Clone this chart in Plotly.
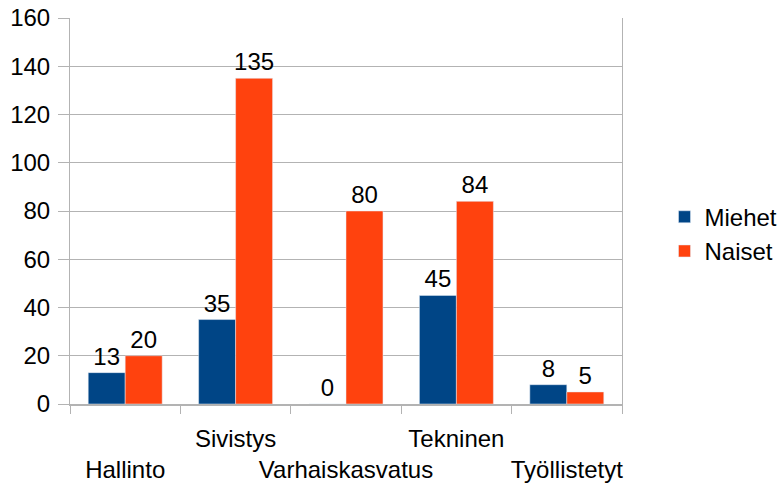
import plotly.graph_objects as go

categories = ["Hallinto", "Sivistys", "Varhaiskasvatus", "Tekninen", "Työllistetyt"]
miehet = [13, 35, 0, 45, 8]
naiset = [20, 135, 80, 84, 5]
y_ticks = [0, 20, 40, 60, 80, 100, 120, 140, 160]

# staggered tick labels (even index on second row)
tick_text = [("<br>" + c) if i % 2 == 0 else c for i, c in enumerate(categories)]

FONT = "Liberation Sans, Arial, sans-serif"
GRID = "#b3b3b3"
FS = 24

fig = go.Figure()
fig.add_trace(go.Bar(name="Miehet", x=categories, y=miehet, marker_color="#004586",
                     text=[str(v) for v in miehet], textposition="outside",
                     constraintext="none",
                     textfont=dict(size=FS, color="black"), cliponaxis=False))
fig.add_trace(go.Bar(name="Naiset", x=categories, y=naiset, marker_color="#ff420e",
                     text=[str(v) for v in naiset], textposition="outside",
                     constraintext="none",
                     textfont=dict(size=FS, color="black"), cliponaxis=False))

fig.update_layout(
    width=778, height=485,
    margin=dict(l=70, r=156, t=18, b=81, autoexpand=False),
    paper_bgcolor="white", plot_bgcolor="white",
    font=dict(family=FONT, size=FS, color="black"),
    barmode="group", bargap=0.33, bargroupgap=0,
    showlegend=True,
    legend=dict(x=1.077, y=0.44, xanchor="left", yanchor="middle",
                font=dict(size=FS), itemwidth=30, tracegroupgap=0),
)
fig.update_xaxes(
    type="category", tickmode="array", tickvals=categories, ticktext=tick_text,
    tickson="boundaries", ticks="outside", ticklen=8, tickcolor=GRID,
    showline=True, linecolor=GRID, linewidth=2, showgrid=False,
    tickfont=dict(size=FS), tickangle=0, automargin=False, ticklabelstandoff=12,
)
fig.update_yaxes(
    range=[0, 160], tickvals=y_ticks, ticks="outside", ticklen=11, tickcolor=GRID,
    showgrid=True, gridcolor=GRID, gridwidth=1,
    showline=True, linecolor=GRID, linewidth=1, mirror=True,
    tickfont=dict(size=FS), zeroline=False, automargin=False, ticklabelstandoff=3,
)

fig.write_html("out.html", config={"displayModeBar": False},
               post_script="document.body.style.margin='0';")
